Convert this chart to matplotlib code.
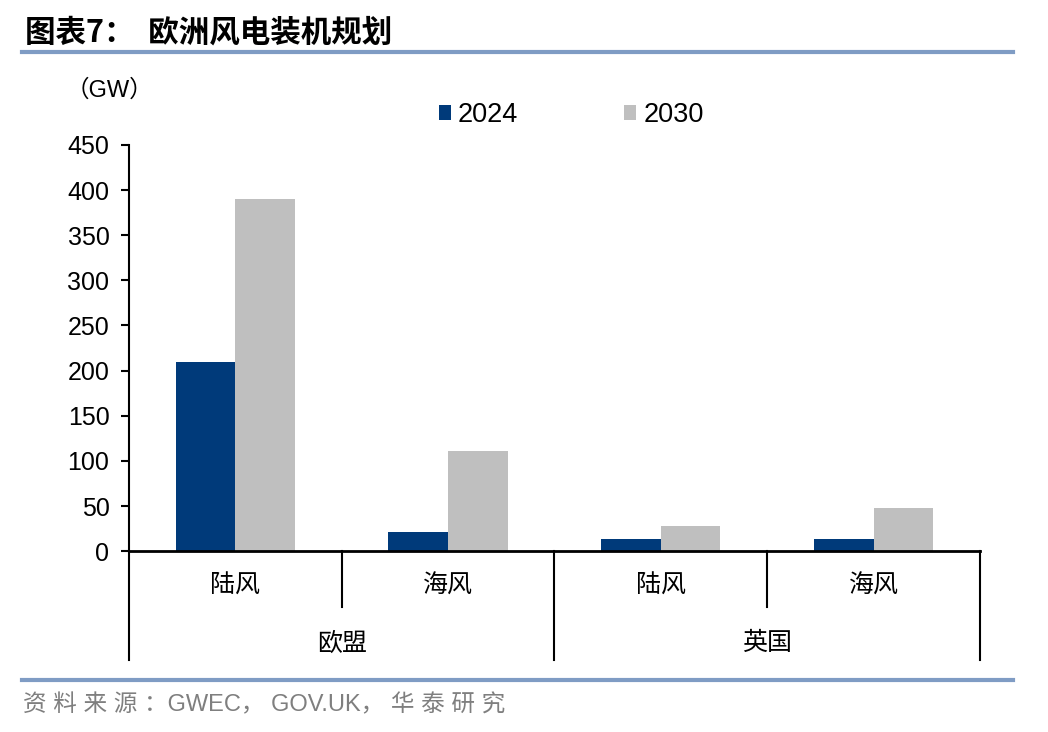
import matplotlib.pyplot as plt
import matplotlib.transforms as mtransforms
import numpy as np

plt.rcParams['font.family'] = ['Liberation Sans', 'Noto Sans CJK SC', 'DejaVu Sans']

sub_labels = ['陆风', '海风', '陆风', '海风']
group_labels = ['欧盟', '英国']
v2024 = [210, 21, 14, 14]
v2030 = [390, 111, 28, 48]
yticks = [0, 50, 100, 150, 200, 250, 300, 350, 400, 450]

c2024 = '#003A7A'
c2030 = '#BFBFBF'
cjk = ['Noto Sans CJK SC', 'DejaVu Sans']

fig = plt.figure(figsize=(10.48, 7.32), dpi=100)
ax = fig.add_axes([0.123, 0.247, 0.812, 0.555])

x = np.arange(len(sub_labels))
w = 0.28
ax.bar(x - w / 2, v2024, w, color=c2024, label='2024', zorder=2)
ax.bar(x + w / 2, v2030, w, color=c2030, label='2030', zorder=2)

ax.set_xlim(-0.5, 3.5)
ax.set_ylim(0, 450)
ax.set_yticks(yticks)
ax.tick_params(axis='y', labelsize=18, length=6, width=1.5, direction='out', pad=8)
ax.set_xticks([])
for s in ['top', 'right']:
    ax.spines[s].set_visible(False)
ax.spines['left'].set_linewidth(1.5)
ax.spines['bottom'].set_linewidth(2)

# two-level category axis
trans = mtransforms.blended_transform_factory(ax.transData, ax.transAxes)
for xb, depth in [(-0.5, -0.268), (0.5, -0.138), (1.5, -0.268), (2.5, -0.138), (3.5, -0.268)]:
    ax.plot([xb, xb], [0, depth], transform=trans, color='black', lw=1.5, clip_on=False)
for i, lab in enumerate(sub_labels):
    ax.text(i, -0.084, lab, transform=trans, ha='center', va='center', fontsize=18, family=cjk)
for i, lab in enumerate(group_labels):
    ax.text(0.5 + 2 * i, -0.227, lab, transform=trans, ha='center', va='center', fontsize=18, family=cjk)

leg = fig.legend(*ax.get_legend_handles_labels(), loc='center', bbox_to_anchor=(0.545, 0.843),
                 ncol=2, frameon=False, fontsize=19.5, handlelength=0.45, handleheight=0.45,
                 handletextpad=0.26, columnspacing=3.9)

fig.text(0.063, 0.877, '（GW）', fontsize=17, ha='left', va='center')

# title and rules
fig.text(0.024, 0.955, '图表7：  欧洲风电装机规划', fontsize=22, fontweight='bold',
         ha='left', va='center', family=cjk)
fig.add_artist(plt.Line2D([0.021, 0.967], [0.929, 0.929], color='#7F9CC4', lw=3))
fig.add_artist(plt.Line2D([0.021, 0.967], [0.071, 0.071], color='#7F9CC4', lw=3))
fig.text(0.022, 0.037, '资 料 来 源 ：GWEC， GOV.UK， 华 泰 研 究', fontsize=17, color='#7F7F7F',
         ha='left', va='center')

fig.savefig('out.png', dpi=100)
